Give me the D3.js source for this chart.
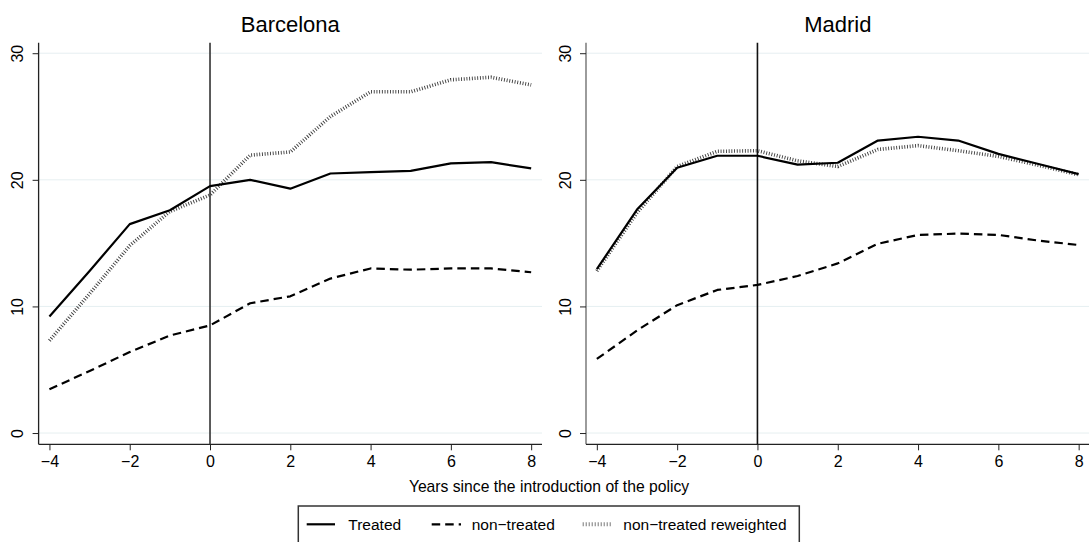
<!DOCTYPE html>
<html><head><meta charset="utf-8">
<script src="https://cdn.jsdelivr.net/npm/d3@7"></script>
<style>body{margin:0;background:#fff;} svg{display:block;font-family:"Liberation Sans",Arial,sans-serif;}</style>
</head><body>
<svg id="c" width="1089" height="542"></svg>
<script>
const years = [-4,-3,-2,-1,0,1,2,3,4,5,6,7,8];
const xTicks = [-4,-2,0,2,4,6,8];
const yTicks = [0,10,20,30];
const panelTitles = ["Barcelona","Madrid"];
const bcnTreated     = [9.2,12.8,16.5,17.6,19.5,20.0,19.3,20.5,20.6,20.7,21.3,21.4,20.9];
const bcnNonTreated  = [3.45,4.9,6.4,7.7,8.5,10.25,10.8,12.2,13.0,12.9,13.0,13.0,12.7];
const bcnReweighted  = [7.3,11.0,14.8,17.5,18.8,21.95,22.2,25.0,26.95,26.95,27.9,28.1,27.5];
const madTreated     = [12.95,17.65,20.95,21.9,21.9,21.2,21.35,23.1,23.4,23.1,22.05,21.25,20.45];
const madNonTreated  = [5.85,8.1,10.1,11.3,11.7,12.4,13.4,14.95,15.65,15.75,15.65,15.2,14.85];
const madReweighted  = [12.8,17.4,21.05,22.25,22.3,21.5,21.05,22.4,22.7,22.3,21.85,21.15,20.4];
const seriesNames = ["Treated","non\u2212treated","non\u2212treated reweighted"];
const xTitle = "Years since the introduction of the policy";

const panels = [
  {title: panelTitles[0], x0: 38.6, x1: 542, series: [bcnTreated, bcnNonTreated, bcnReweighted], yAxisColor:"#222", vColor:"#333"},
  {title: panelTitles[1], x0: 586, x1: 1089.5, series: [madTreated, madNonTreated, madReweighted], yAxisColor:"#666", vColor:"#111"}
];
const styles = [
  {stroke:"#000", width:2.2, dash:null},
  {stroke:"#000", width:2.2, dash:"8.5 5"},
  {stroke:"#3a3a3a", width:3.6, dash:"0.9 1.8"}
];
const svg = d3.select("#c");
const yTop = 42.7, yBot = 444.3;
const y = d3.scaleLinear().domain([-0.89, 30.83]).range([yBot, yTop]);
const FONT = 16;

panels.forEach(p => {
  const x = d3.scaleLinear().domain([-4.27, 8.27]).range([p.x0, p.x1]);
  const g = svg.append("g");
  g.selectAll("line.grid").data(yTicks).join("line")
    .attr("x1", p.x0).attr("x2", p.x1)
    .attr("y1", d => y(d)).attr("y2", d => y(d))
    .attr("stroke", "#e6eff1").attr("stroke-width", 1);
  const ya = d3.axisLeft(y).tickValues(yTicks).tickSize(6).tickSizeOuter(0).tickFormat(d3.format("d"));
  const yg = g.append("g").attr("transform", `translate(${p.x0},0)`).call(ya);
  yg.select(".domain").attr("stroke", p.yAxisColor).attr("stroke-width", 1.3).attr("d", `M0,${yTop}V${yBot}`);
  yg.selectAll(".tick line").attr("stroke", "#222").attr("stroke-width", 1);
  yg.selectAll(".tick text").attr("font-size", FONT).attr("fill", "#000")
    .attr("transform", "rotate(-90)").attr("x", 0).attr("y", -15.5).attr("dy", 0)
    .attr("text-anchor", "middle").attr("font-family", "Liberation Sans, Arial, sans-serif");
  const xa = d3.axisBottom(x).tickValues(xTicks).tickSize(6).tickSizeOuter(0).tickFormat(d => d < 0 ? "\u2212" + Math.abs(d) : d);
  const xg = g.append("g").attr("transform", `translate(0,${yBot})`).call(xa);
  xg.select(".domain").attr("stroke", "#222").attr("stroke-width", 1.3).attr("d", `M${p.x0},0H${p.x1}`);
  xg.selectAll(".tick line").attr("stroke", "#222").attr("stroke-width", 1);
  xg.selectAll(".tick text").attr("font-size", FONT).attr("fill", "#000").attr("y", 23).attr("dy", 0)
    .attr("font-family", "Liberation Sans, Arial, sans-serif");
  g.append("line").attr("x1", x(0)).attr("x2", x(0)).attr("y1", yTop).attr("y2", yBot)
    .attr("stroke", p.vColor).attr("stroke-width", 1.6);
  const line = d3.line().x((d,i) => x(years[i])).y(d => y(d));
  [2,1,0].forEach(k => {
    const s = styles[k];
    g.append("path").datum(p.series[k]).attr("d", line)
      .attr("fill", "none").attr("stroke", s.stroke).attr("stroke-width", s.width)
      .attr("stroke-dasharray", s.dash).attr("stroke-linejoin", "round");
  });
  g.append("text").attr("x", (p.x0 + p.x1) / 2).attr("y", 32.3).attr("text-anchor", "middle")
    .attr("font-size", 22).attr("fill", "#000").text(p.title);
});

svg.append("text").attr("x", 549).attr("y", 492).attr("text-anchor", "middle")
  .attr("font-size", 15.7).attr("fill", "#000").text(xTitle);

const lg = svg.append("g");
lg.append("rect").attr("x", 298.3).attr("y", 506).attr("width", 501).attr("height", 60)
  .attr("fill", "#fff").attr("stroke", "#333").attr("stroke-width", 1.5);
const legItems = [
  {x1: 306.7, x2: 335, tx: 348.3},
  {x1: 431.7, x2: 461, tx: 471.7},
  {x1: 582.7, x2: 611, tx: 623.3}
];
legItems.forEach((it, k) => {
  const s = styles[k];
  lg.append("line").attr("x1", it.x1).attr("x2", it.x2).attr("y1", 524.3).attr("y2", 524.3)
    .attr("stroke", k === 2 ? "#777" : s.stroke).attr("stroke-width", k === 2 ? 4 : s.width)
    .attr("stroke-dasharray", k === 2 ? "1 2" : s.dash);
  lg.append("text").attr("x", it.tx).attr("y", 530).attr("font-size", 15.5).attr("fill", "#000").text(seriesNames[k]);
});
</script>
</body></html>
